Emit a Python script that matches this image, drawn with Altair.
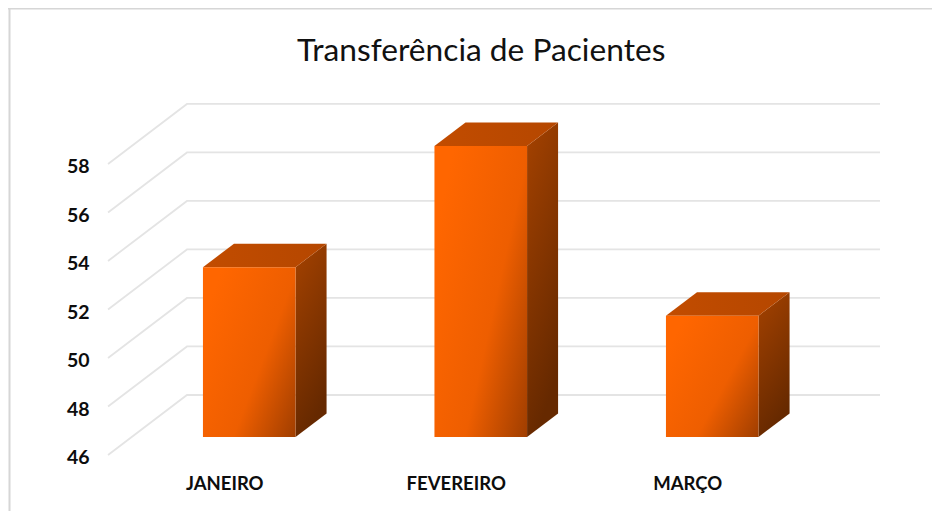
import altair as alt
import pandas as pd

TITLE = "Transferência de Pacientes"
months = ["JANEIRO", "FEVEREIRO", "MARÇO"]
values = [53, 58, 51]
y_ticks = [46, 48, 50, 52, 54, 56, 58]

# layout of the pseudo-3D view, in data units
X_DOMAIN = [-1.0421, 2.9492]
Y_DOMAIN = [43.69, 64.43]
BAR_W = 0.4
BAR_LIFT = 0.742    # bar front plane above the floor's front edge
D_X = 0.134         # bar depth
D_Y = 0.97
FLOOR_X_FRONT = -0.610
FLOOR_X_BACK = -0.269
FLOOR_X_END = 2.7246
FLOOR_D_Y = 2.474

x_scale = alt.Scale(domain=X_DOMAIN, nice=False, zero=False)
y_scale = alt.Scale(domain=Y_DOMAIN, nice=False, zero=False)

grid_rows = []
for t in y_ticks:
    grid_rows += [
        {"t": t, "i": 0, "x": FLOOR_X_FRONT, "y": t},
        {"t": t, "i": 1, "x": FLOOR_X_BACK, "y": t + FLOOR_D_Y},
        {"t": t, "i": 2, "x": FLOOR_X_END, "y": t + FLOOR_D_Y},
    ]
front_rows, side_rows, top_rows = [], [], []
for i, (m, v) in enumerate(zip(months, values)):
    l, r = i - BAR_W / 2, i + BAR_W / 2
    base, top = y_ticks[0] + BAR_LIFT, v + BAR_LIFT
    front_rows.append({"m": m, "x": l, "x2": r, "y": top, "y2": base})
    side_rows += [
        {"m": m, "x": r, "y": top, "y2": base},
        {"m": m, "x": r + D_X, "y": top + D_Y, "y2": base + D_Y},
    ]
    top_rows += [
        {"m": m, "y": top, "x": l, "x2": r},
        {"m": m, "y": top + D_Y, "x": l + D_X, "x2": r + D_X},
    ]

label_expr = "[" + ",".join(f"'{m}'" for m in months) + "][datum.value]"
LABEL_FONT = "Lato"

x_enc = alt.X(
    "x:Q", scale=x_scale, title=None,
    axis=alt.Axis(values=[0, 1, 2], labelExpr=label_expr, orient="bottom", offset=-37,
                  domain=False, ticks=False, grid=False, labelOffset=-25, labelPadding=0,
                  labelFont=LABEL_FONT, labelFontSize=18.5, labelFontWeight="bold",
                  labelColor="#0d0d0d", labelAngle=0, labelFlush=False, labelOverlap=False),
)
y_enc = alt.Y(
    "y:Q", scale=y_scale, title=None,
    axis=alt.Axis(values=y_ticks, format="d", orient="left", offset=-81,
                  domain=False, ticks=False, grid=False, labelPadding=0, labelOffset=3,
                  labelFont=LABEL_FONT, labelFontSize=19.5, labelFontWeight="bold",
                  labelColor="#0d0d0d", labelFlush=False, labelOverlap=False),
)

grid = alt.Chart(pd.DataFrame(grid_rows)).mark_line(color="#e4e4e4", strokeWidth=1.8).encode(
    x=x_enc, y=y_enc, detail="t:N", order="i:Q"
)

front_fill = alt.LinearGradient(
    gradient="linear", x1=0, y1=0.3, x2=1, y2=1,
    stops=[alt.GradientStop(offset=0, color="#ff6600"),
           alt.GradientStop(offset=0.55, color="#ee5e00"),
           alt.GradientStop(offset=1, color="#a03e00")],
)
side_fill = alt.LinearGradient(
    gradient="linear", x1=0, y1=0, x2=0.3, y2=1,
    stops=[alt.GradientStop(offset=0, color="#a54200"),
           alt.GradientStop(offset=1, color="#662900")],
)
top_fill = alt.LinearGradient(
    gradient="linear", x1=0, y1=0, x2=1, y2=0,
    stops=[alt.GradientStop(offset=0, color="#c24c00"),
           alt.GradientStop(offset=1, color="#b54700")],
)

side = alt.Chart(pd.DataFrame(side_rows)).mark_area(color=side_fill, orient="vertical").encode(
    x=x_enc, y=y_enc, y2="y2:Q", detail="m:N"
)
top = alt.Chart(pd.DataFrame(top_rows)).mark_area(color=top_fill, orient="horizontal").encode(
    y=y_enc, x=x_enc, x2="x2:Q", detail="m:N"
)
front = alt.Chart(pd.DataFrame(front_rows)).mark_rect(color=front_fill).encode(
    x=x_enc, x2="x2:Q", y=y_enc, y2="y2:Q"
)

frame_left = alt.Chart(pd.DataFrame({"a": [0]})).mark_rule(color="#d6d6d6", strokeWidth=2).encode(
    x=alt.value(1.5), y=alt.value(0), y2=alt.value(503)
)
frame_top = alt.Chart(pd.DataFrame({"a": [0]})).mark_rule(color="#d6d6d6", strokeWidth=2).encode(
    y=alt.value(0.5), x=alt.value(0), x2=alt.value(924)
)

chart = (
    alt.layer(frame_left, frame_top, grid, side, top, front)
    .properties(
        width=924, height=503, padding=0,
        autosize=alt.AutoSizeParams(type="none"),
        title=alt.TitleParams(TITLE, anchor="start", dx=290, dy=65, font="Lato",
                              fontSize=31.7, fontWeight="normal", color="#111111"),
    )
    .configure_view(stroke=None)
)

chart.save("out.html", embed_options={"renderer": "svg", "actions": False})
